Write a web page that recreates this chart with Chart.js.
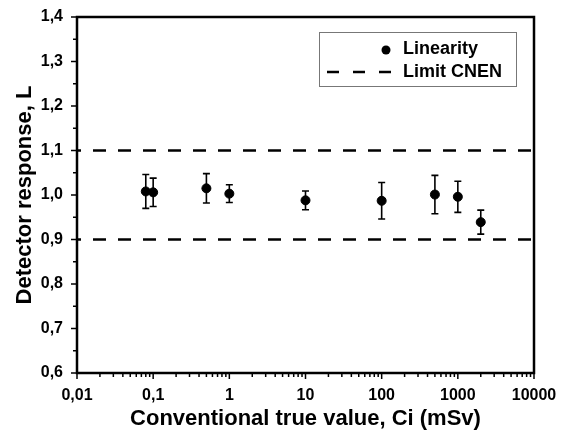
<!DOCTYPE html>
<html>
<head>
<meta charset="utf-8">
<script src="https://cdn.jsdelivr.net/npm/chart.js@4.4.1/dist/chart.umd.min.js"></script>
<style>
  html, body { margin: 0; padding: 0; background: #fff; }
</style>
</head>
<body>
<canvas id="chart" width="564" height="437"></canvas>
<script>
// Valores
const doseValues = [0.08, 0.1, 0.5, 1, 10, 100, 500, 1000, 2000];
const response = [1.008, 1.006, 1.015, 1.003, 0.988, 0.987, 1.001, 0.996, 0.939];
const uncertainty = [0.038, 0.032, 0.033, 0.020, 0.021, 0.041, 0.043, 0.035, 0.027];
const limitValues = [1.1, 0.9];

const xDecades = [0.01, 0.1, 1, 10, 100, 1000, 10000];
const xTickLabels = ["0,01", "0,1", "1", "10", "100", "1000", "10000"];
const xMinorSteps = [2, 3, 4, 5, 6, 7, 8, 9];

const FONT = "'Liberation Sans', Arial, sans-serif";

// Ticks del eje x: décadas + subdivisiones
const xTickValues = [];
xDecades.forEach((d, i) => {
  xTickValues.push(d);
  if (i < xDecades.length - 1) {
    xMinorSteps.forEach((m) => xTickValues.push(+(d * m).toPrecision(6)));
  }
});

const isTenth = (v) => Math.abs(v * 10 - Math.round(v * 10)) < 1e-6;

// Marco y marcas de los ejes
const frameAndTicks = {
  id: "frameAndTicks",
  afterDraw(chart) {
    const { ctx, chartArea: a, scales } = chart;
    ctx.save();
    ctx.strokeStyle = "#000";
    ctx.lineWidth = 1.5;
    scales.x.ticks.forEach((t) => {
      const px = scales.x.getPixelForValue(t.value);
      const len = xDecades.includes(t.value) ? 6 : 4;
      ctx.beginPath();
      ctx.moveTo(px, a.bottom);
      ctx.lineTo(px, a.bottom + len);
      ctx.stroke();
    });
    scales.y.ticks.forEach((t) => {
      const py = scales.y.getPixelForValue(t.value);
      const len = isTenth(t.value) ? 6 : 4;
      ctx.beginPath();
      ctx.moveTo(a.left, py);
      ctx.lineTo(a.left - len, py);
      ctx.stroke();
    });
    ctx.lineWidth = 2.5;
    ctx.strokeRect(a.left, a.top, a.right - a.left, a.bottom - a.top);
    ctx.restore();
  },
};

// Barras de error
const errorBars = {
  id: "errorBars",
  afterDatasetsDraw(chart) {
    const { ctx, scales: { x, y } } = chart;
    ctx.save();
    ctx.strokeStyle = "#000";
    ctx.lineWidth = 1.6;
    doseValues.forEach((d, i) => {
      const px = x.getPixelForValue(d);
      const top = y.getPixelForValue(response[i] + uncertainty[i]);
      const bot = y.getPixelForValue(response[i] - uncertainty[i]);
      ctx.beginPath();
      ctx.moveTo(px, top);
      ctx.lineTo(px, bot);
      ctx.moveTo(px - 3.5, top);
      ctx.lineTo(px + 3.5, top);
      ctx.moveTo(px - 3.5, bot);
      ctx.lineTo(px + 3.5, bot);
      ctx.stroke();
    });
    ctx.restore();
  },
};

// Leyenda dentro del área del gráfico
const boxLegend = {
  id: "boxLegend",
  afterDraw(chart) {
    const { ctx, chartArea: a } = chart;
    const ds = chart.data.datasets;
    const left = a.right - 215;
    const top = a.top + 15;
    ctx.save();
    ctx.strokeStyle = "#777";
    ctx.lineWidth = 1;
    ctx.strokeRect(left + 0.5, top + 0.5, 197, 54);

    ctx.fillStyle = "#000";
    ctx.beginPath();
    ctx.arc(left + 67, top + 18, 4.5, 0, Math.PI * 2);
    ctx.fill();

    ctx.strokeStyle = "#000";
    ctx.lineWidth = 2.5;
    ctx.setLineDash([12, 14]);
    ctx.beginPath();
    ctx.moveTo(left + 8, top + 40);
    ctx.lineTo(left + 72, top + 40);
    ctx.stroke();
    ctx.setLineDash([]);

    ctx.font = "bold 18px " + FONT;
    ctx.textBaseline = "middle";
    ctx.textAlign = "left";
    ctx.fillText(ds[0].label, left + 84, top + 17);
    ctx.fillText(ds[1].label, left + 84, top + 40);
    ctx.restore();
  },
};

const limitDatasets = limitValues.map((v) => ({
  type: "line",
  label: "Limit CNEN",
  data: [
    { x: xDecades[0], y: v },
    { x: xDecades[xDecades.length - 1], y: v },
  ],
  borderColor: "#000",
  borderWidth: 2.5,
  borderDash: [13, 12],
  borderDashOffset: 9,
  pointRadius: 0,
  fill: false,
}));

new Chart(document.getElementById("chart"), {
  type: "scatter",
  data: {
    datasets: [
      {
        label: "Linearity",
        data: doseValues.map((d, i) => ({ x: d, y: response[i] })),
        backgroundColor: "#000",
        borderColor: "#000",
        pointRadius: 4.5,
        pointHoverRadius: 4.5,
      },
      ...limitDatasets,
    ],
  },
  options: {
    responsive: false,
    animation: false,
    devicePixelRatio: 1,
    layout: { padding: { top: 17, right: 30, bottom: 0, left: 0 } },
    plugins: {
      legend: { display: false },
      tooltip: { enabled: false },
    },
    scales: {
      x: {
        type: "logarithmic",
        position: "bottom",
        min: 0.01,
        max: 10000,
        afterBuildTicks(scale) {
          scale.ticks = xTickValues.map((v) => ({ value: v }));
        },
        afterFit(scale) {
          scale.height = 64;
          scale.paddingLeft = 0;
          scale.paddingRight = 0;
        },
        grid: { display: false, drawTicks: false },
        border: { display: false },
        ticks: {
          autoSkip: false,
          maxRotation: 0,
          padding: 13,
          color: "#000",
          font: { family: FONT, size: 16, weight: "bold" },
          callback(v) {
            const i = xDecades.indexOf(v);
            return i >= 0 ? xTickLabels[i] : "";
          },
        },
        title: {
          display: true,
          text: "Conventional true value, Ci (mSv)",
          color: "#000",
          font: { family: FONT, size: 22, weight: "bold" },
          padding: { top: 0, bottom: 5 },
        },
      },
      y: {
        min: 0.6,
        max: 1.4,
        afterFit(scale) {
          scale.width = 77;
          scale.paddingTop = 0;
          scale.paddingBottom = 0;
        },
        grid: { display: false, drawTicks: false },
        border: { display: false },
        ticks: {
          stepSize: 0.05,
          autoSkip: false,
          padding: 14,
          color: "#000",
          font: { family: FONT, size: 16, weight: "bold" },
          callback(v) {
            return isTenth(v) ? v.toFixed(1).replace(".", ",") : "";
          },
        },
        title: {
          display: true,
          text: "Detector response, L",
          color: "#000",
          font: { family: FONT, size: 22, weight: "bold" },
          padding: { top: 12, bottom: 0 },
        },
      },
    },
  },
  plugins: [errorBars, frameAndTicks, boxLegend],
});
</script>
</body>
</html>
